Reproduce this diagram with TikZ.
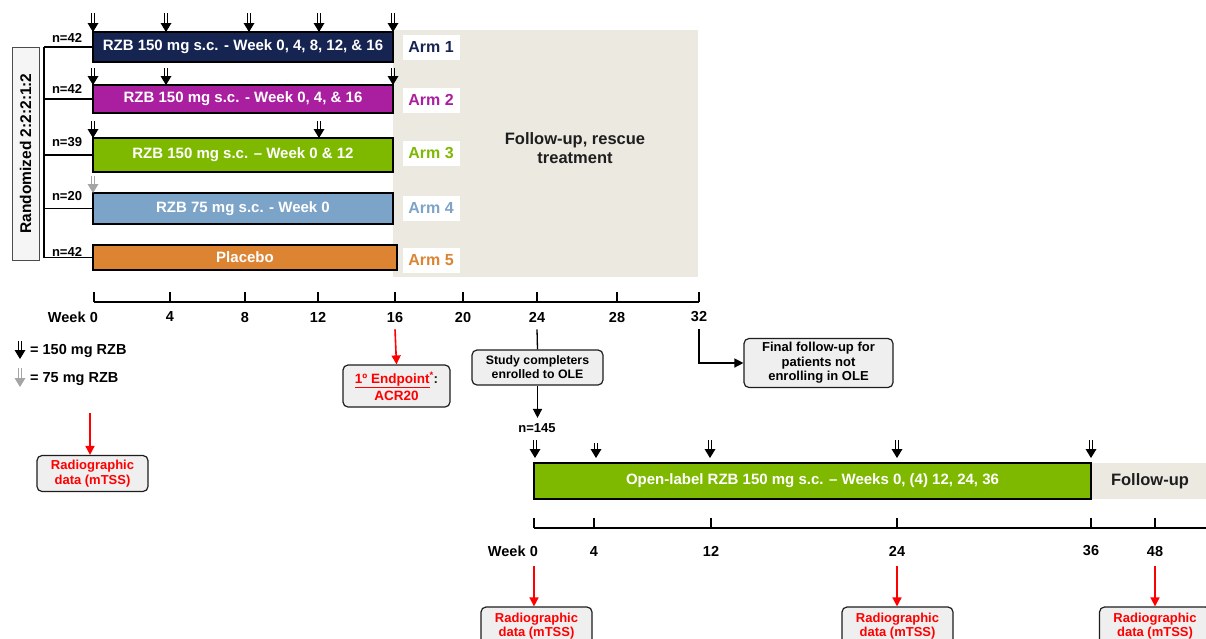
\documentclass[tikz,border=0pt]{standalone}
\usepackage{fontspec}
\setmainfont{Liberation Sans}
\usepackage{tikz}
\usetikzlibrary{arrows.meta, positioning}
\definecolor{armnavy}{RGB}{22,36,82}
\definecolor{armmagenta}{RGB}{170,30,160}
\definecolor{armgreen}{RGB}{126,185,0}
\definecolor{armblue}{RGB}{124,163,200}
\definecolor{armorange}{RGB}{220,132,50}
\definecolor{fubeige}{RGB}{236,233,225}
\definecolor{boxgray}{RGB}{239,239,239}
\definecolor{alertred}{RGB}{255,0,0}
\definecolor{dosegray}{RGB}{165,165,165}
\definecolor{gray30}{RGB}{30,30,30}

\tikzset{
  armbox/.style={draw=black, line width=1.3pt, inner sep=0pt, text=white,
    font=\fontsize{15}{17}\selectfont\bfseries},
  armlabel/.style={fill=white, minimum width=57pt, minimum height=25pt,
    inner sep=0pt, font=\fontsize{16}{18}\selectfont\bfseries},
  nlabel/.style={font=\fontsize{13}{15}\selectfont\bfseries},
  ticklabel/.style={font=\fontsize{14.5}{16}\selectfont\bfseries, inner sep=1pt},
  axisline/.style={line width=1.3pt},
  bracketline/.style={line width=1.3pt},
  infobox/.style={draw=gray30, line width=1.2pt, rounded corners=5pt,
    fill=boxgray, align=center, inner sep=2pt,
    font=\fontsize{13}{14.5}\selectfont\bfseries},
  redarrow/.style={draw=alertred, line width=1.6pt,
    -{Triangle[length=9pt, width=9pt]}},
  blackarrow/.style={draw=black, line width=1.4pt,
    -{Triangle[length=9pt, width=9pt]}},
  doseshaft/.style={line width=0.9pt}
}

% dose marker: colour, x, top, bottom
\newcommand{\dosemark}[4][black]{%
  \draw[doseshaft, draw=#1] (#2-1.3,#3) -- (#2-1.3,#4-8);
  \draw[doseshaft, draw=#1] (#2+1.3,#3) -- (#2+1.3,#4-8);
  \fill[#1] (#2-5.5,#4-9) -- (#2+5.5,#4-9) -- (#2,#4) -- cycle;}

\begin{document}
\begin{tikzpicture}[x=1pt, y=-1pt]
    \clip (0,0) rectangle (1206,638);
    \fill[white] (0,0) rectangle (1206,638);

    % follow-up background
    \node[fill=fubeige, minimum width=305pt, minimum height=247pt,
      inner sep=0pt] (fu) at (545.5,153.5) {};
    \node[font=\fontsize{16.5}{18.5}\selectfont\bfseries, align=center,
      text=gray30] (futext) at (575,148) {Follow-up, rescue\\treatment};

    % randomisation
    \node[draw=black!70, line width=1pt, fill=black!4, rotate=90,
      minimum width=213pt, minimum height=27pt, inner sep=0pt,
      font=\fontsize{15.5}{17}\selectfont\bfseries] (rand) at (25.5,153.5)
      {Randomized 2:2:2:1:2};

    % arms
    \node[armbox, fill=armnavy, minimum width=300pt, minimum height=30pt]
      (arm1) at (243,47) {RZB 150 mg s.c. - Week 0, 4, 8, 12, \& 16};
    \node[armbox, fill=armmagenta, minimum width=300pt, minimum height=28pt]
      (arm2) at (243,99) {RZB 150 mg s.c. - Week 0, 4, \& 16};
    \node[armbox, fill=armgreen, minimum width=300pt, minimum height=34pt]
      (arm3) at (243,155) {RZB 150 mg s.c. -- Week 0 \& 12};
    \node[armbox, fill=armblue, minimum width=300pt, minimum height=31pt]
      (arm4) at (243,208.5) {RZB 75 mg s.c. - Week 0};
    \node[armbox, fill=armorange, minimum width=304pt, minimum height=25pt]
      (arm5) at (245,257.5) {Placebo};

    \node[armlabel, text=armnavy] (lbl1) at (431,47) {Arm 1};
    \node[armlabel, text=armmagenta] (lbl2) at (431,100) {Arm 2};
    \node[armlabel, text=armgreen] (lbl3) at (431,153) {Arm 3};
    \node[armlabel, text=armblue] (lbl4) at (431,208) {Arm 4};
    \node[armlabel, text=armorange] (lbl5) at (431,260) {Arm 5};

    \node[nlabel] (n1) at (67,38) {n=42};
    \node[nlabel] (n2) at (67,89) {n=42};
    \node[nlabel] (n3) at (67,142) {n=39};
    \node[nlabel] (n4) at (67,196) {n=20};
    \node[nlabel] (n5) at (67,252) {n=42};

    % bracket
    \coordinate (brx) at (44,0);
    \draw[bracketline] (arm1.west -| brx) -- (arm5.west -| brx);
    \foreach \k in {1,...,5}
      \draw[bracketline] (arm\k.west -| brx) -- (arm\k.west);

    % dose markers
    \foreach \x in {93,166,249,319,393} \dosemark{\x}{13}{32};
    \foreach \x in {93,166,393} \dosemark{\x}{68}{85};
    \foreach \x in {93,319} \dosemark{\x}{121}{138};
    \dosemark[dosegray]{93}{176}{193};

    % week axis, core study
    \draw[axisline] (94,302) -- (699,302);
    \foreach \w/\x in {0/94,4/170,8/245,12/318,16/395,20/463,24/537,28/617,32/699} {
      \draw[axisline] (\x,302) -- ++(0,-10);
      \node[ticklabel] (t\w) at (\x,317) {\w};
    }
    \node[ticklabel, left=2pt of t0] (wk0) {Week};

    % legend
    \dosemark{20}{341}{359};
    \node[ticklabel, anchor=west] (leg1) at (29,351) {= 150 mg RZB};
    \dosemark[dosegray]{20}{368}{387};
    \node[ticklabel, anchor=west] (leg2) at (29,379) {= 75 mg RZB};

    % baseline radiographic data
    \node[infobox, text=alertred, minimum width=111pt, minimum height=36pt]
      (radL) at (92.5,473.5) {Radiographic\\data (mTSS)};
    \coordinate (radLtop) at (90,413);
    \draw[redarrow] (radLtop) -- (radLtop |- radL.north);

    % primary endpoint
    \node[infobox, text=alertred, minimum width=107pt, minimum height=42pt,
      font=\fontsize{13.5}{15}\selectfont\bfseries]
      (ep) at (396.5,386)
      {\underline{1º Endpoint}\textsuperscript{*}\textcolor{gray30}{:}\\[2pt]ACR20};
    \draw[redarrow] ([yshift=-6pt]t16.south) -- (ep.north);

    % study completers
    \node[infobox, font=\fontsize{12.3}{14}\selectfont\bfseries,
      minimum width=131pt, minimum height=35pt]
      (comp) at (537.5,367.5) {Study completers\\enrolled to OLE};
    \draw[axisline] ([yshift=-6pt]t24.south) -- (comp.north);
    \node[nlabel] (n145) at (537,428) {n=145};
    \draw[blackarrow] (comp.south) -- ([yshift=2pt]n145.north -| comp.south);

    % final follow-up
    \node[infobox, minimum width=149pt, minimum height=49pt]
      (final) at (818.5,363) {Final follow-up for\\patients not\\enrolling in OLE};
    \draw[blackarrow] ([yshift=-6pt]t32.south) |- (final.west);

    % open-label extension
    \node[fill=fubeige, minimum width=118pt, minimum height=36pt, inner sep=0pt,
      text=gray30, font=\fontsize{16.5}{18}\selectfont\bfseries]
      (olefu) at (1150,481) {Follow-up};
    \node[armbox, fill=armgreen, minimum width=557pt, minimum height=36pt]
      (ole) at (812.5,481)
      {Open-label RZB 150 mg s.c. -- Weeks 0, (4) 12, 24, 36};
    \foreach \x in {535,710,897,1091} \dosemark{\x}{440}{458};
    \dosemark{596}{443}{458};

    % week axis, extension
    \draw[axisline] (534,528) -- (1206,528);
    \foreach \w/\x in {0/534,4/594,12/711,24/897,36/1091,48/1155} {
      \draw[axisline] (\x,528) -- ++(0,-10);
      \node[ticklabel] (o\w) at (\x,551) {\w};
    }
    \node[ticklabel, left=2pt of o0] (owk0) {Week};

    \foreach \w/\x in {0/536.5,24/897.5,48/1155} {
      \node[infobox, text=alertred, minimum width=111pt, minimum height=38pt]
        (rad\w) at (\x,626) {Radiographic\\data (mTSS)};
      \draw[redarrow] ([yshift=-9pt]o\w.south) -- (o\w.south |- rad\w.north);
    }
\end{tikzpicture}
\end{document}
